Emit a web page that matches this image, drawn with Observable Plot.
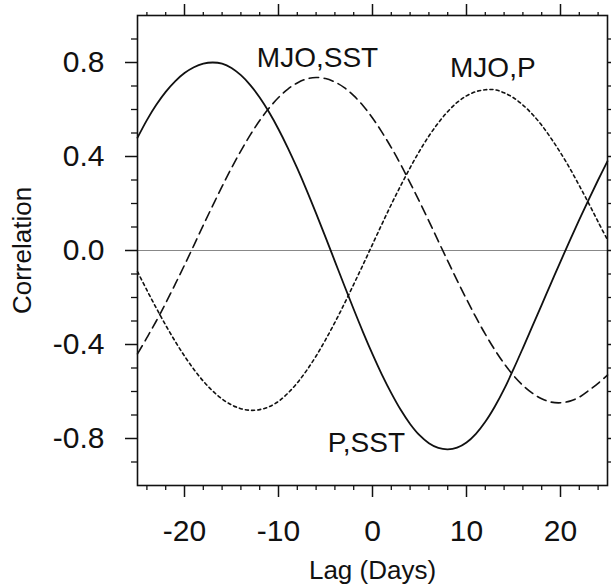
<!DOCTYPE html>
<html>
<head>
<meta charset="utf-8">
<script src="https://cdn.jsdelivr.net/npm/d3@7"></script>
<script src="https://cdn.jsdelivr.net/npm/@observablehq/plot@0.6"></script>
<style>
  html, body { margin: 0; padding: 0; background: #ffffff; }
  #chart svg { display: block; }
</style>
</head>
<body>
<div id="chart"></div>
<script>
// Lag in days
const lags = [-25,-24,-23,-22,-21,-20,-19,-18,-17,-16,-15,-14,-13,-12,-11,-10,-9,-8,-7,-6,-5,-4,-3,-2,-1,0,1,2,3,4,5,6,7,8,9,10,11,12,13,14,15,16,17,18,19,20,21,22,23,24,25];

// P,SST (solid)
const pSst = [0.48,0.555,0.62,0.675,0.72,0.755,0.78,0.795,0.800,0.795,0.777,0.746,0.704,0.651,0.588,0.516,0.436,0.349,0.256,0.158,0.057,-0.046,-0.149,-0.250,-0.348,-0.441,-0.528,-0.607,-0.678,-0.738,-0.786,-0.820,-0.840,-0.846,-0.839,-0.817,-0.780,-0.729,-0.665,-0.590,-0.505,-0.415,-0.323,-0.231,-0.139,-0.047,0.043,0.131,0.217,0.300,0.380];

// MJO,SST (dashed)
const mjoSst = [-0.44,-0.371,-0.300,-0.224,-0.144,-0.062,0.022,0.108,0.191,0.273,0.351,0.424,0.492,0.553,0.606,0.651,0.687,0.713,0.730,0.736,0.732,0.717,0.693,0.659,0.616,0.564,0.504,0.438,0.366,0.288,0.208,0.125,0.040,-0.044,-0.127,-0.207,-0.284,-0.356,-0.422,-0.481,-0.532,-0.574,-0.607,-0.631,-0.645,-0.648,-0.641,-0.624,-0.596,-0.565,-0.53];

// MJO,P (dotted)
const mjoP = [-0.09,-0.169,-0.245,-0.318,-0.386,-0.449,-0.506,-0.556,-0.598,-0.632,-0.657,-0.673,-0.68,-0.677,-0.665,-0.642,-0.607,-0.563,-0.510,-0.449,-0.380,-0.306,-0.227,-0.144,-0.060,0.026,0.112,0.196,0.276,0.352,0.423,0.487,0.543,0.591,0.630,0.658,0.676,0.684,0.684,0.671,0.650,0.619,0.580,0.533,0.477,0.416,0.349,0.276,0.201,0.122,0.045];

// Curve labels and where they sit (data coordinates)
const seriesNames = ["MJO,SST", "MJO,P", "P,SST"];
const labelLag = [-5.85, 12.8, -0.65];
const labelCorr = [0.82, 0.775, -0.82];

// Axis ticks
const xMajor = [-20, -10, 0, 10, 20];
const xMinor = [-24,-22,-18,-16,-14,-12,-8,-6,-4,-2,2,4,6,8,12,14,16,18,22,24];
const yMajor = [-0.8, -0.4, 0.0, 0.4, 0.8];
const yMinor = [-0.9,-0.7,-0.6,-0.5,-0.3,-0.2,-0.1,0.1,0.2,0.3,0.5,0.6,0.7,0.9];

const toRows = (vals) => lags.map((l, i) => ({lag: l, r: vals[i]}));
const solidRows = toRows(pSst);
const dashRows = toRows(mjoSst);
const dotRows = toRows(mjoP);
const labelRows = seriesNames.map((n, i) => ({name: n, lag: labelLag[i], r: labelCorr[i]}));

const FONT = "'Liberation Sans', Arial, Helvetica, sans-serif";
const blank = () => "";

const chart = Plot.plot({
  width: 611,
  height: 588,
  marginLeft: 137,
  marginRight: 4,
  marginTop: 15,
  marginBottom: 103,
  style: {fontFamily: FONT, background: "#ffffff", color: "#111"},
  x: {domain: [-25, 25]},
  y: {domain: [-1, 1]},
  marks: [
    Plot.ruleY([0], {stroke: "#888", strokeWidth: 1}),
    Plot.line(solidRows, {x: "lag", y: "r", curve: "catmull-rom", stroke: "#111", strokeWidth: 1.8}),
    Plot.line(dashRows, {x: "lag", y: "r", curve: "catmull-rom", stroke: "#111", strokeWidth: 1.6, strokeDasharray: "9.5,5.5"}),
    Plot.line(dotRows, {x: "lag", y: "r", curve: "catmull-rom", stroke: "#111", strokeWidth: 1.6, strokeDasharray: "3,3.2"}),
    Plot.frame({stroke: "#111", strokeWidth: 1.6}),
    // bottom axis
    Plot.axisX({anchor: "bottom", ticks: xMajor, tickSize: 12, tickPadding: 22, tickFormat: d => String(d), fontSize: 30, label: null, strokeWidth: 1.5}),
    Plot.axisX({anchor: "bottom", ticks: xMinor, tickSize: 5, tickFormat: blank, label: null, strokeWidth: 1.3}),
    // top axis (ticks only)
    Plot.axisX({anchor: "top", ticks: xMajor, tickSize: 12, tickFormat: blank, label: null, strokeWidth: 1.5}),
    Plot.axisX({anchor: "top", ticks: xMinor, tickSize: 4, tickFormat: blank, label: null, strokeWidth: 1.3}),
    // left axis
    Plot.axisY({anchor: "left", ticks: yMajor, tickSize: 12, tickPadding: 21, tickFormat: d => d.toFixed(1), fontSize: 30, label: null, strokeWidth: 1.5}),
    Plot.axisY({anchor: "left", ticks: yMinor, tickSize: 6, tickFormat: blank, label: null, strokeWidth: 1.3}),
    // right axis (ticks only)
    Plot.axisY({anchor: "right", ticks: yMajor, tickSize: 12, tickFormat: blank, label: null, strokeWidth: 1.5}),
    Plot.axisY({anchor: "right", ticks: yMinor, tickSize: 6, tickFormat: blank, label: null, strokeWidth: 1.3}),
    // axis titles
    Plot.text(["Lag (Days)"], {frameAnchor: "bottom", dy: 85, lineAnchor: "middle", textAnchor: "middle", fontSize: 26, fill: "#111"}),
    Plot.text(["Correlation"], {frameAnchor: "left", dx: -115, rotate: -90, lineAnchor: "middle", textAnchor: "middle", fontSize: 26, fill: "#111"}),
    // curve labels
    Plot.text(labelRows, {x: "lag", y: "r", text: "name", lineAnchor: "middle", fontSize: 28, fill: "#111"})
  ]
});
document.getElementById("chart").appendChild(chart);
</script>
</body>
</html>
